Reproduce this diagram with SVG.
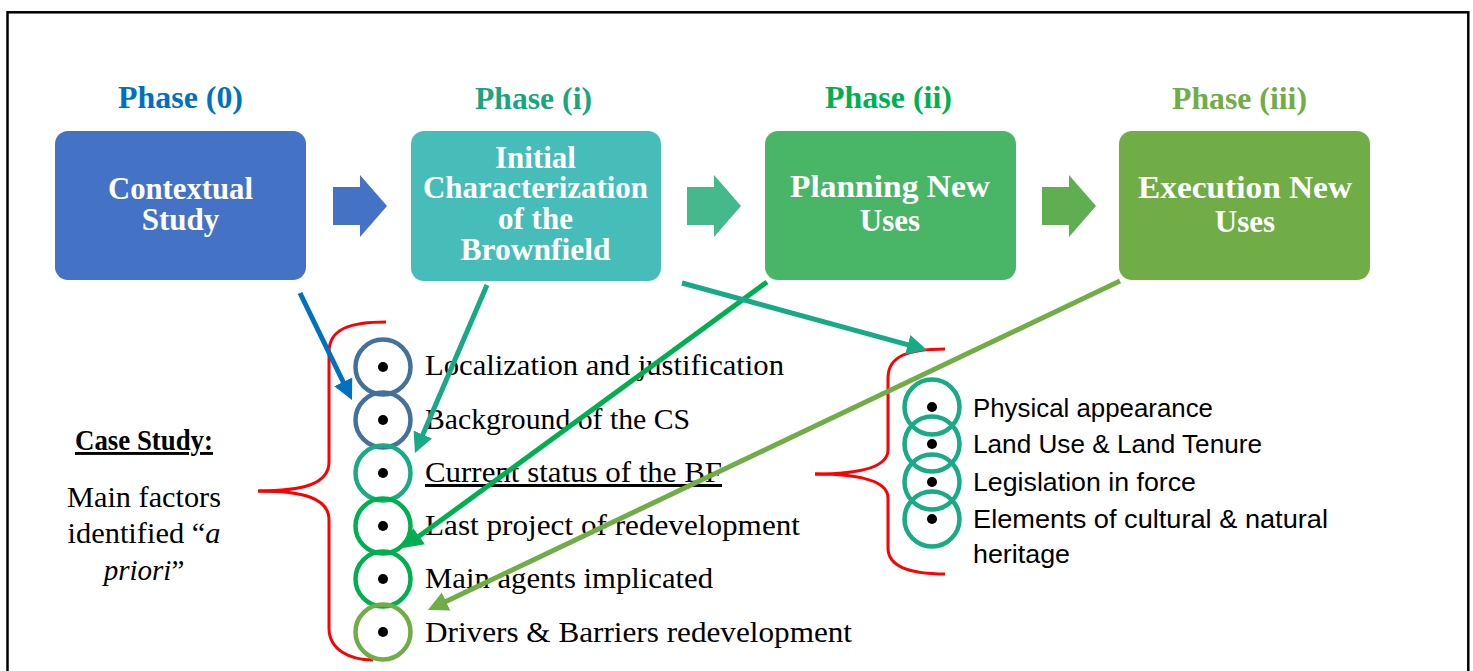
<svg xmlns="http://www.w3.org/2000/svg" width="1473" height="671" viewBox="0 0 1473 671">
  <style>
    .phase { font-family: "Liberation Serif", "Times New Roman", serif; font-weight: bold; font-size: 31px; text-anchor: middle; }
    .boxtxt { font-family: "Liberation Serif", "Times New Roman", serif; font-weight: bold; font-size: 31px; fill: #ffffff; text-anchor: middle; }
    .item { font-family: "Liberation Serif", "Times New Roman", serif; font-size: 30px; fill: #000000; }
    .ritem { font-family: "Liberation Sans", Arial, sans-serif; font-size: 26px; fill: #000000; }
    .cs { font-family: "Liberation Serif", "Times New Roman", serif; font-size: 29px; fill: #000000; text-anchor: middle; }
    .ring { fill: none; stroke-width: 4.5; }
    .dot { fill: #000000; }
    .brace { fill: none; stroke: #ff0000; stroke-width: 3; }
    .conn { fill: none; stroke-width: 5; stroke-linecap: butt; }
  </style>
  <defs>
    <marker id="mBlue" viewBox="0 0 10 10" refX="5" refY="5" markerWidth="4" markerHeight="4" orient="auto" markerUnits="strokeWidth"><path d="M0,0 L10,5 L0,10 z" fill="#0070C0"/></marker>
    <marker id="mTeal" viewBox="0 0 10 10" refX="5" refY="5" markerWidth="4" markerHeight="4" orient="auto" markerUnits="strokeWidth"><path d="M0,0 L10,5 L0,10 z" fill="#18AA84"/></marker>
    <marker id="mGreen" viewBox="0 0 10 10" refX="5" refY="5" markerWidth="4" markerHeight="4" orient="auto" markerUnits="strokeWidth"><path d="M0,0 L10,5 L0,10 z" fill="#00B050"/></marker>
    <marker id="mOlive" viewBox="0 0 10 10" refX="5" refY="5" markerWidth="4" markerHeight="4" orient="auto" markerUnits="strokeWidth"><path d="M0,0 L10,5 L0,10 z" fill="#70AD47"/></marker>
  </defs>

  <rect x="7.5" y="12.3" width="1460.8" height="690" fill="#ffffff" stroke="#000000" stroke-width="2.5"/>

  <!-- Phase labels -->
  <g id="phase-labels">
    <text class="phase" x="180.5" y="108" fill="#0070C0" textLength="125" lengthAdjust="spacingAndGlyphs">Phase (0)</text>
    <text class="phase" x="533.5" y="109" fill="#19A57F" textLength="117" lengthAdjust="spacingAndGlyphs">Phase (i)</text>
    <text class="phase" x="888.5" y="108" fill="#00B050" textLength="127" lengthAdjust="spacingAndGlyphs">Phase (ii)</text>
    <text class="phase" x="1239.5" y="109" fill="#70AD47" textLength="135" lengthAdjust="spacingAndGlyphs">Phase (iii)</text>
  </g>

  <!-- Phase boxes -->
  <g id="node-contextual">
    <rect x="55" y="131" width="251" height="149" rx="13" fill="#4472C4"/>
    <text class="boxtxt" x="180.5" y="199" textLength="145" lengthAdjust="spacingAndGlyphs">Contextual</text>
    <text class="boxtxt" x="180.5" y="230">Study</text>
  </g>
  <g id="node-initial">
    <rect x="411" y="131" width="250" height="150" rx="13" fill="#46BDB9"/>
    <text class="boxtxt" x="535.5" y="168">Initial</text>
    <text class="boxtxt" x="535.5" y="198" textLength="225" lengthAdjust="spacingAndGlyphs">Characterization</text>
    <text class="boxtxt" x="535.5" y="229">of the</text>
    <text class="boxtxt" x="535.5" y="260" textLength="150" lengthAdjust="spacingAndGlyphs">Brownfield</text>
  </g>
  <g id="node-planning">
    <rect x="765" y="131" width="251" height="149" rx="13" fill="#49B667"/>
    <text class="boxtxt" x="890" y="197" textLength="200" lengthAdjust="spacingAndGlyphs">Planning New</text>
    <text class="boxtxt" x="890" y="231">Uses</text>
  </g>
  <g id="node-execution">
    <rect x="1119" y="131" width="251" height="149" rx="13" fill="#70AD47"/>
    <text class="boxtxt" x="1245" y="198" textLength="214" lengthAdjust="spacingAndGlyphs">Execution New</text>
    <text class="boxtxt" x="1245" y="232">Uses</text>
  </g>

  <!-- Block arrows between phases -->
  <g id="block-arrows">
    <polygon points="333,187 360,187 360,175 387,206 360,237 360,225 333,225" fill="#4472C4"/>
    <polygon points="687,187 714,187 714,175 741,206 714,237 714,225 687,225" fill="#45B98C"/>
    <polygon points="1042,187 1069,187 1069,175 1096,206 1069,237 1069,225 1042,225" fill="#5FAF52"/>
  </g>

  <!-- Case study text -->
  <g id="node-case-study">
    <text class="cs" x="144" y="450" font-weight="bold" font-size="27px" text-decoration="underline" textLength="138" lengthAdjust="spacingAndGlyphs">Case Study:</text>
    <text class="cs" x="144" y="507" textLength="154" lengthAdjust="spacingAndGlyphs">Main factors</text>
    <text class="cs" x="144" y="543" textLength="153" lengthAdjust="spacingAndGlyphs">identified “<tspan font-style="italic">a</tspan></text>
    <text class="cs" x="144" y="580"><tspan font-style="italic">priori</tspan>”</text>
  </g>

  <!-- Left brace -->
  <g id="brace-left">
    <path class="brace" d="M386,322 C352,322 329,328 329,352 L329,462 C329,484 303,491 258,491"/>
    <path class="brace" d="M258,491 C303,491 329,498 329,520 L329,628 C329,650 350,660 373,660"/>
  </g>

  <!-- Left list -->
  <g id="node-left-list">
    <circle class="ring" cx="383" cy="367" r="27.5" stroke="#44709C"/>
    <circle class="ring" cx="383" cy="420" r="27.5" stroke="#44709C"/>
    <circle class="ring" cx="383" cy="473" r="27.5" stroke="#1AAA84"/>
    <circle class="ring" cx="383" cy="526" r="27.5" stroke="#00B050"/>
    <circle class="ring" cx="383" cy="579" r="27.5" stroke="#00B050"/>
    <circle class="ring" cx="383" cy="632" r="27.5" stroke="#70AD47"/>
    <circle class="dot" cx="383" cy="367" r="5"/>
    <circle class="dot" cx="383" cy="420" r="5"/>
    <circle class="dot" cx="383" cy="473" r="5"/>
    <circle class="dot" cx="383" cy="526" r="5"/>
    <circle class="dot" cx="383" cy="579" r="5"/>
    <circle class="dot" cx="383" cy="632" r="5"/>
    <text class="item" x="425" y="375" textLength="359" lengthAdjust="spacingAndGlyphs">Localization and justification</text>
    <text class="item" x="425" y="429" textLength="265" lengthAdjust="spacingAndGlyphs">Background of the CS</text>
    <text class="item" x="425" y="482" textLength="297" lengthAdjust="spacingAndGlyphs" text-decoration="underline">Current status of the BF</text>
    <text class="item" x="425" y="535" textLength="375" lengthAdjust="spacingAndGlyphs">Last project of redevelopment</text>
    <text class="item" x="425" y="588" textLength="288" lengthAdjust="spacingAndGlyphs">Main agents implicated</text>
    <text class="item" x="425" y="642" textLength="427" lengthAdjust="spacingAndGlyphs">Drivers &amp; Barriers redevelopment</text>
  </g>

  <!-- Right brace -->
  <g id="brace-right">
    <path class="brace" d="M945,349 C908,349 888,356 888,378 L888,450 C888,467 860,474 815,474"/>
    <path class="brace" d="M815,474 C860,474 888,481 888,498 L888,548 C888,566 908,574 945,574"/>
  </g>

  <!-- Right list -->
  <g id="node-right-list">
    <circle class="ring" cx="932" cy="407" r="27.5" stroke="#1AAA84"/>
    <circle class="ring" cx="932" cy="444" r="27.5" stroke="#1AAA84"/>
    <circle class="ring" cx="932" cy="482" r="27.5" stroke="#1AAA84"/>
    <circle class="ring" cx="932" cy="519" r="27.5" stroke="#1AAA84"/>
    <circle class="dot" cx="932" cy="407" r="5"/>
    <circle class="dot" cx="932" cy="444" r="5"/>
    <circle class="dot" cx="932" cy="482" r="5"/>
    <circle class="dot" cx="932" cy="519" r="5"/>
    <text class="ritem" x="973" y="417" textLength="240" lengthAdjust="spacingAndGlyphs">Physical appearance</text>
    <text class="ritem" x="973" y="453" textLength="289" lengthAdjust="spacingAndGlyphs">Land Use &amp; Land Tenure</text>
    <text class="ritem" x="973" y="491" textLength="223" lengthAdjust="spacingAndGlyphs">Legislation in force</text>
    <text class="ritem" x="973" y="528" textLength="355" lengthAdjust="spacingAndGlyphs">Elements of cultural &amp; natural</text>
    <text class="ritem" x="973" y="563" textLength="97" lengthAdjust="spacingAndGlyphs">heritage</text>
  </g>

  <!-- Connectors -->
  <g id="connectors">
    <line class="conn" x1="300" y1="293" x2="347.6" y2="391" stroke="#0070C0" marker-end="url(#mBlue)"/>
    <line class="conn" x1="487" y1="285" x2="418.9" y2="443.8" stroke="#18AA84" marker-end="url(#mTeal)"/>
    <line class="conn" x1="767" y1="282" x2="411.1" y2="542.1" stroke="#00B050" marker-end="url(#mGreen)"/>
    <line class="conn" x1="682" y1="283" x2="917.4" y2="347.4" stroke="#18AA84" marker-end="url(#mTeal)"/>
    <line class="conn" x1="1120" y1="281" x2="437" y2="605.7" stroke="#70AD47" marker-end="url(#mOlive)"/>
  </g>
</svg>
